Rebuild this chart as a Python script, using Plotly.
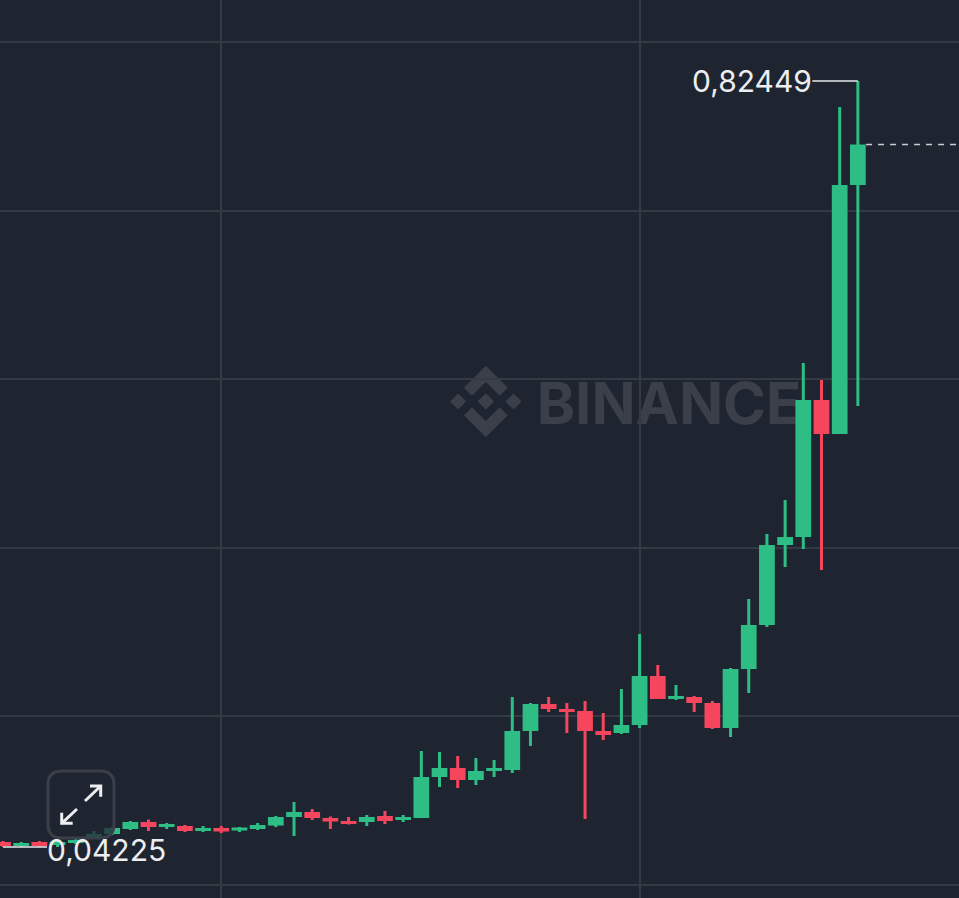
import plotly.graph_objects as go

# candles, left to right (price)
opens = [0.0459, 0.0448, 0.0459, 0.0457, 0.0478, 0.0529, 0.0570, 0.0621, 0.0663, 0.0642,
         0.0622, 0.0601, 0.0602, 0.0606, 0.0621, 0.0657, 0.0744, 0.0765, 0.0704, 0.0673,
         0.0693, 0.0724, 0.0713, 0.0734, 0.1152, 0.1214, 0.1122, 0.1214, 0.1224, 0.1622,
         0.1868, 0.1817, 0.1796, 0.1592, 0.1602, 0.1683, 0.2154, 0.1949, 0.1939, 0.1878,
         0.1653, 0.2255, 0.2705, 0.3522, 0.3603, 0.4972, 0.4655, 0.7198]
highs = [0.0484, 0.0474, 0.0484, 0.0484, 0.0504, 0.0586, 0.0627, 0.0688, 0.0703, 0.0668,
         0.0647, 0.0637, 0.0637, 0.0627, 0.0668, 0.0739, 0.0882, 0.0811, 0.0734, 0.0729,
         0.0749, 0.0790, 0.0749, 0.1403, 0.1393, 0.1352, 0.1331, 0.1311, 0.1954, 0.1893,
         0.1954, 0.1893, 0.1913, 0.1791, 0.2036, 0.2598, 0.2281, 0.2077, 0.1965, 0.1913,
         0.2250, 0.2955, 0.3619, 0.3966, 0.5365, 0.5192, 0.7980, 0.82449]
lows = [0.04225, 0.0423, 0.0423, 0.0423, 0.0453, 0.0504, 0.0545, 0.0596, 0.0586, 0.0606,
        0.0576, 0.0576, 0.0565, 0.0576, 0.0596, 0.0627, 0.0535, 0.0698, 0.0606, 0.0652,
        0.0637, 0.0657, 0.0678, 0.0719, 0.1035, 0.1025, 0.1056, 0.1137, 0.1178, 0.1454,
        0.1801, 0.1587, 0.0708, 0.1515, 0.1576, 0.1638, 0.1934, 0.1924, 0.1801, 0.1628,
        0.1546, 0.1995, 0.2669, 0.3282, 0.3466, 0.3251, 0.4640, 0.4926]
closes = [0.0448, 0.0449, 0.0448, 0.0459, 0.0479, 0.0540, 0.0602, 0.0663, 0.0642, 0.0643,
          0.0601, 0.0602, 0.0596, 0.0607, 0.0632, 0.0714, 0.0765, 0.0734, 0.0698, 0.0672,
          0.0714, 0.0703, 0.0714, 0.1122, 0.1214, 0.1122, 0.1184, 0.1215, 0.1592, 0.1868,
          0.1847, 0.1816, 0.1622, 0.1581, 0.1653, 0.2154, 0.1949, 0.1950, 0.1908, 0.1653,
          0.2225, 0.2675, 0.3492, 0.3573, 0.4972, 0.4655, 0.7168, 0.7581]
candle_idx = list(range(len(opens)))

price_grid = [0.0034, 0.1756, 0.3478, 0.5199, 0.6921, 0.8643]
time_grid = [12, 35]
low_text = "0,04225"
high_text = "0,82449"
last_price = 0.7596

BG = "#1f2530"
GRID = "#343a44"
GREEN = "#2ebd85"
RED = "#f6465d"
MARK = "#3a3f49"
W, H = 959, 898


def px(x):
    return x / W


def py(y):
    return 1 - y / H


def logo_path():
    # binance diamond logo, drawn on a 126.61 unit square
    s, ox, oy = 0.5655, 450, 365.7
    polys = [
        [(38.73, 53.2), (63.31, 28.62), (87.9, 53.21), (102.2, 38.91), (63.31, 0), (24.43, 38.9)],
        [(0, 63.31), (14.3, 49.01), (28.6, 63.31), (14.3, 77.61)],
        [(38.73, 73.41), (63.31, 97.99), (87.89, 73.4), (102.19, 87.69), (63.31, 126.61), (24.43, 87.72)],
        [(98.01, 63.31), (112.31, 49.01), (126.61, 63.31), (112.31, 77.61)],
        [(63.31, 48.78), (77.83, 63.3), (63.31, 77.83), (48.81, 63.28)],
    ]
    out = ""
    for poly in polys:
        pts = [f"{px(ox + a * s):.5f},{py(oy + b * s):.5f}" for a, b in poly]
        out += "M" + " L".join(pts) + " Z "
    return out


def paper_line(points):
    return "M" + " L".join(f"{px(a):.5f},{py(b):.5f}" for a, b in points)


fig = go.Figure(go.Candlestick(
    x=candle_idx, open=opens, high=highs, low=lows, close=closes,
    increasing=dict(line=dict(color=GREEN, width=3), fillcolor=GREEN),
    decreasing=dict(line=dict(color=RED, width=3), fillcolor=RED),
    whiskerwidth=0,
    showlegend=False,
))

shapes = [
    # watermark sits under the candles
    dict(type="path", path=logo_path(), xref="paper", yref="paper", layer="below",
         fillcolor=MARK, line=dict(width=0)),
    dict(type="rect", xref="paper", yref="paper", layer="below",
         x0=px(530), x1=px(808), y0=py(431), y1=py(371), line=dict(width=0),
         label=dict(text="<b>BINANCE</b>", textposition="middle center",
                    font=dict(family="Inter", size=58, color=MARK))),
    # high / low leaders and last price
    dict(type="line", xref="x", yref="y", x0=44.5, x1=47, y0=highs[-1], y1=highs[-1],
         line=dict(color="#e8eaed", width=1.5)),
    dict(type="line", xref="x", yref="y", x0=0, x1=2.42, y0=lows[0], y1=lows[0],
         line=dict(color="#e8eaed", width=1.5)),
    dict(type="line", xref="x", yref="y", x0=47.45, x1=52.6, y0=last_price, y1=last_price,
         line=dict(color="#c9ccd1", width=1.5, dash="6px,6px")),
    # expand button
    dict(type="path", xref="paper", yref="paper", layer="above",
         path=("M%.5f,%.5f L%.5f,%.5f Q%.5f,%.5f %.5f,%.5f L%.5f,%.5f Q%.5f,%.5f %.5f,%.5f "
               "L%.5f,%.5f Q%.5f,%.5f %.5f,%.5f L%.5f,%.5f Q%.5f,%.5f %.5f,%.5f Z" % (
                   px(62), py(771), px(100), py(771), px(114), py(771), px(114), py(785),
                   px(114), py(824), px(114), py(838), px(100), py(838),
                   px(62), py(838), px(48), py(838), px(48), py(824),
                   px(48), py(785), px(48), py(771), px(62), py(771))),
         fillcolor="rgba(31,37,48,0.72)", line=dict(color=MARK, width=3)),
]
for pts in [
    [(85, 801), (100.7, 786)],
    [(90, 786), (100.7, 786), (100.7, 796.7)],
    [(77, 809), (61.7, 823.3)],
    [(61.7, 812.7), (61.7, 823.3), (72.7, 823.3)],
]:
    shapes.append(dict(type="path", xref="paper", yref="paper", path=paper_line(pts),
                       line=dict(color="#eceef0", width=3)))

fig.update_layout(
    width=W, height=H,
    margin=dict(l=0, r=0, t=0, b=0, pad=0),
    paper_bgcolor=BG, plot_bgcolor=BG,
    boxgap=0.3, boxgroupgap=0,
    shapes=shapes,
    xaxis=dict(range=[-0.165, 52.56], tickvals=time_grid, showticklabels=False,
               gridcolor=GRID, gridwidth=1.5, zeroline=False, rangeslider=dict(visible=False),
               ticks=""),
    yaxis=dict(range=[-0.00983, 0.90721], tickvals=price_grid, showticklabels=False,
               gridcolor=GRID, gridwidth=1.5, zeroline=False, ticks=""),
    annotations=[
        dict(x=44.5, y=highs[-1], xref="x", yref="y", text=high_text, showarrow=False, xshift=2,
             xanchor="right", yanchor="middle", font=dict(family="Inter", size=30, color="#eceef0")),
        dict(x=2.42, y=lows[0], xref="x", yref="y", text=low_text, showarrow=False, xshift=-2, yshift=-3,
             xanchor="left", yanchor="middle", font=dict(family="Inter", size=30, color="#eceef0")),
    ],
)

fig.write_html("out.html", config=dict(displayModeBar=False),
               post_script="document.body.style.margin='0';document.body.style.overflow='hidden';")
